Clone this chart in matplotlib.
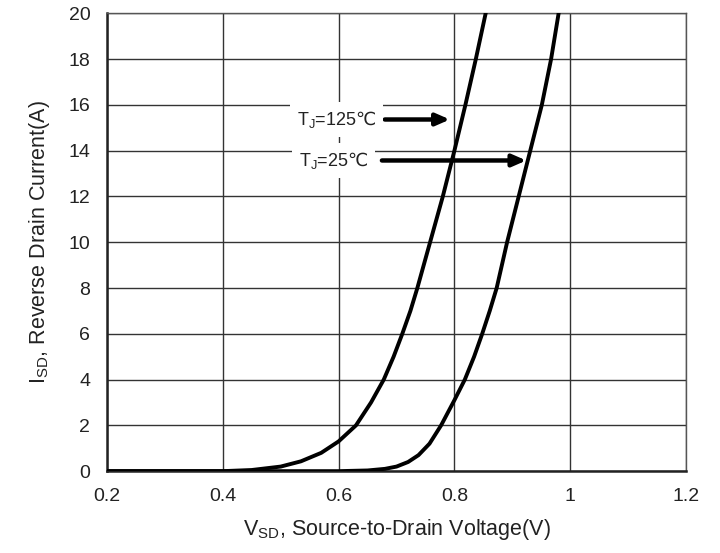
import matplotlib
matplotlib.use("Agg")
from matplotlib import pyplot as plt

plt.rcParams['font.family'] = ['Liberation Sans', 'DejaVu Sans']
plt.rcParams['mathtext.fontset'] = 'custom'
plt.rcParams['mathtext.rm'] = 'Noto Sans CJK SC'

# reverse diode curves
v_125 = [0.2, 0.3, 0.40, 0.45, 0.50, 0.535, 0.57, 0.60, 0.630, 0.656, 0.678, 0.695, 0.710, 0.724, 0.736, 0.758, 0.780, 0.800, 0.819, 0.837, 0.854]
i_125 = [0, 0, 0, 0.05, 0.2, 0.43, 0.8, 1.3, 2, 3, 4, 5, 6, 7, 8, 10, 12, 14, 16, 18, 20]
v_25 = [0.2, 0.4, 0.60, 0.65, 0.68, 0.70, 0.720, 0.738, 0.757, 0.777, 0.800, 0.818, 0.834, 0.848, 0.861, 0.873, 0.891, 0.911, 0.931, 0.951, 0.967, 0.98]
i_25 = [0, 0, 0, 0.03, 0.1, 0.2, 0.4, 0.7, 1.2, 2, 3.1, 4, 5, 6, 7, 8, 10, 12, 14, 16, 18, 20]

xticks = [0.2, 0.4, 0.6, 0.8, 1.0, 1.2]
xlabels = ["0.2", "0.4", "0.6", "0.8", "1", "1.2"]
yticks = list(range(0, 21, 2))

fig = plt.figure(figsize=(7.2, 5.53), dpi=100)
ax = fig.add_axes([0.1486, 0.148, 0.8042, 0.828])

ax.plot(v_125, i_125, color="black", lw=2.8, solid_joinstyle="round", zorder=4)
ax.plot(v_25, i_25, color="black", lw=2.8, solid_joinstyle="round", zorder=4)

ax.set_xlim(0.2, 1.2)
ax.set_ylim(0, 20)
ax.set_xticks(xticks)
ax.set_xticklabels(xlabels)
ax.set_yticks(yticks)
ax.grid(True, color="#333333", lw=1.0)
ax.set_axisbelow(True)
ax.tick_params(length=0, labelsize=14, colors="#222222")
ax.tick_params(axis="x", pad=12)
ax.tick_params(axis="y", pad=12)

for s in ["top", "right"]:
    ax.spines[s].set_color("#555555")
    ax.spines[s].set_linewidth(1.0)
for s in ["left", "bottom"]:
    ax.spines[s].set_color("#222222")
    ax.spines[s].set_linewidth(1.8)

ax.set_xlabel("V$_\\mathregular{SD}$, Source-to-Drain Voltage(V)", fontsize=15.5, color="#222222", labelpad=9)
ax.set_ylabel("I$_\\mathregular{SD}$, Reverse Drain Current(A)", fontsize=15.5, color="#222222", labelpad=12)

box = dict(facecolor="white", edgecolor="none", pad=5)
arrow = dict(arrowstyle="-|>,head_length=0.8,head_width=0.35", color="black", lw=3.2)
ax.annotate("", xy=(0.797, 15.36), xytext=(0.675, 15.36), arrowprops=arrow, zorder=5)
ax.annotate("", xy=(0.929, 13.57), xytext=(0.67, 13.57), arrowprops=arrow, zorder=5)
ax.text(0.596, 15.36, "T$_\\mathregular{J}$=125$\\mathrm{\u2103}$", fontsize=13, ha="center", va="center",
        color="#222222", bbox=box, zorder=5)
ax.text(0.591, 13.57, "T$_\\mathregular{J}$=25$\\mathrm{\u2103}$", fontsize=13, ha="center", va="center",
        color="#222222", bbox=box, zorder=5)

fig.savefig("out.png", dpi=100)
